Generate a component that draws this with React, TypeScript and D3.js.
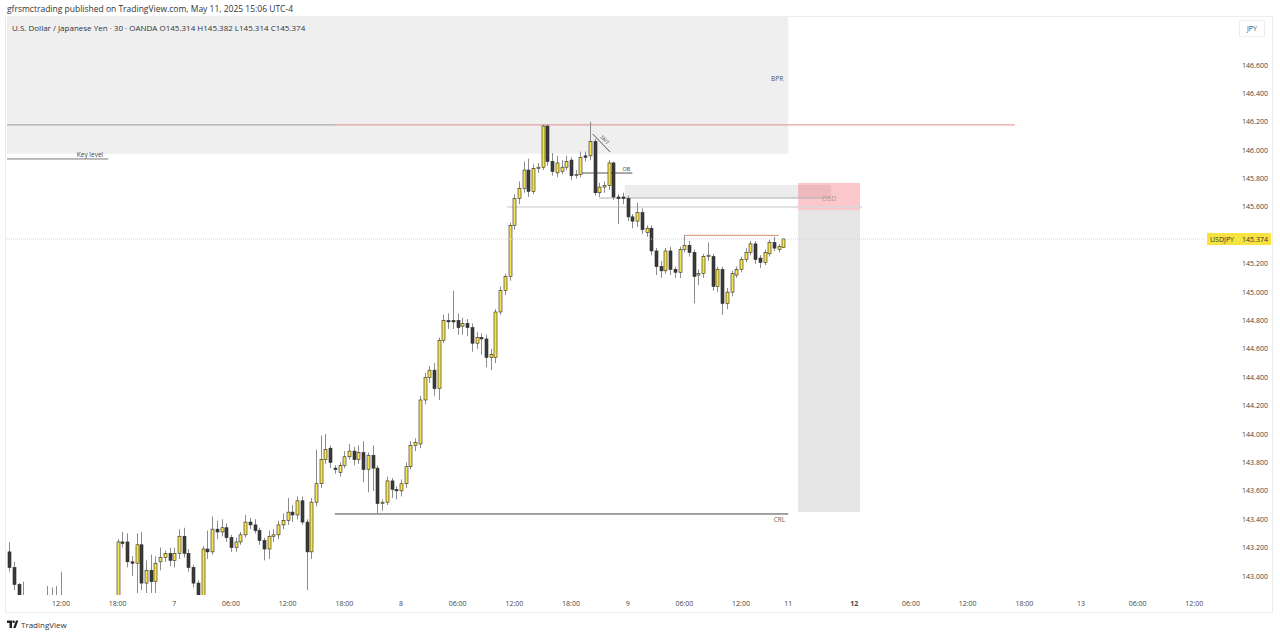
import * as d3 from 'd3'

// 30-minute USDJPY bars, [open, high, low, close]
// May 6 starts at 06:30, bar index 0
const may6Bars: number[][] = [
  [143.17, 143.24, 143.03, 143.06], [143.06, 143.1, 142.9, 142.94], [142.94, 142.95, 142.8, 142.83],
  [142.83, 142.96, 142.72, 142.78], [142.78, 142.84, 142.7, 142.74], [142.74, 142.8, 142.66, 142.7],
  [142.7, 142.78, 142.64, 142.75], [142.75, 142.82, 142.7, 142.77], [142.77, 142.93, 142.72, 142.8],
  [142.8, 142.92, 142.74, 142.82], [142.82, 142.93, 142.75, 142.79], [142.79, 143.03, 142.74, 142.8],
  [142.8, 142.85, 142.7, 142.72], [142.72, 142.78, 142.62, 142.66], [142.66, 142.74, 142.6, 142.7],
  [142.7, 142.78, 142.64, 142.68], [142.68, 142.74, 142.58, 142.62], [142.62, 142.7, 142.56, 142.66],
  [142.66, 142.76, 142.62, 142.72], [142.72, 142.8, 142.66, 142.7], [142.7, 142.78, 142.64, 142.74],
  [142.74, 142.82, 142.68, 142.76], [142.76, 142.84, 142.7, 142.8], [142.8, 143.26, 142.78, 143.24],
  [143.24, 143.31, 143.2, 143.23], [143.24, 143.3, 143.06, 143.1], [143.1, 143.14, 143.0, 143.09],
  [143.09, 143.3, 142.88, 143.22], [143.22, 143.31, 142.9, 142.95], [142.95, 143.11, 142.88, 143.04],
  [143.04, 143.15, 142.88, 142.96], [142.96, 143.14, 142.88, 143.09], [143.1, 143.2, 143.04, 143.13],
  [143.13, 143.18, 143.1, 143.16], [143.16, 143.2, 143.07, 143.11],
]
const may7Bars: number[][] = [
  [143.11, 143.2, 143.06, 143.16], [143.16, 143.33, 143.12, 143.28], [143.28, 143.34, 143.13, 143.16],
  [143.16, 143.19, 143.03, 143.06], [143.06, 143.08, 142.92, 142.95], [142.95, 142.97, 142.82, 142.86],
  [142.86, 143.21, 142.82, 143.19], [143.19, 143.32, 143.12, 143.17], [143.17, 143.42, 143.15, 143.33],
  [143.33, 143.39, 143.26, 143.31], [143.31, 143.4, 143.28, 143.34], [143.34, 143.37, 143.24, 143.27],
  [143.27, 143.29, 143.17, 143.2], [143.2, 143.27, 143.17, 143.24], [143.24, 143.31, 143.22, 143.29],
  [143.29, 143.43, 143.27, 143.38], [143.38, 143.41, 143.33, 143.36], [143.36, 143.4, 143.3, 143.32],
  [143.32, 143.34, 143.22, 143.25], [143.25, 143.27, 143.11, 143.19], [143.19, 143.32, 143.12, 143.28],
  [143.28, 143.33, 143.24, 143.29], [143.29, 143.39, 143.26, 143.36], [143.36, 143.44, 143.33, 143.39],
  [143.39, 143.55, 143.36, 143.45], [143.45, 143.5, 143.38, 143.43], [143.43, 143.56, 143.4, 143.53],
  [143.53, 143.56, 143.36, 143.38], [143.38, 143.4, 142.9, 143.17], [143.17, 143.55, 143.12, 143.52],
  [143.52, 143.89, 143.49, 143.65], [143.65, 143.99, 143.62, 143.82], [143.82, 144.0, 143.79, 143.89],
  [143.9, 143.92, 143.76, 143.8], [143.76, 143.78, 143.72, 143.75], [143.73, 143.8, 143.7, 143.78],
  [143.78, 143.88, 143.76, 143.84], [143.84, 143.93, 143.82, 143.88], [143.88, 143.91, 143.78, 143.82],
  [143.82, 143.92, 143.79, 143.87], [143.87, 143.95, 143.66, 143.75], [143.75, 143.87, 143.59, 143.85],
  [143.85, 143.92, 143.6, 143.76], [143.76, 143.78, 143.44, 143.51], [143.51, 143.54, 143.46, 143.52],
  [143.52, 143.7, 143.5, 143.67], [143.67, 143.69, 143.55, 143.61], [143.61, 143.63, 143.54, 143.6],
]
const may8Bars: number[][] = [
  [143.6, 143.68, 143.56, 143.65], [143.65, 143.8, 143.62, 143.77], [143.77, 143.95, 143.75, 143.92],
  [143.92, 143.97, 143.88, 143.94], [143.93, 144.27, 143.9, 144.24], [144.24, 144.43, 144.21, 144.4],
  [144.4, 144.48, 144.36, 144.45], [144.45, 144.5, 144.27, 144.32], [144.32, 144.68, 144.24, 144.66],
  [144.66, 144.84, 144.64, 144.8], [144.8, 144.85, 144.74, 144.79], [144.8, 145.01, 144.74, 144.79],
  [144.8, 144.85, 144.7, 144.75], [144.76, 144.82, 144.7, 144.78], [144.78, 144.81, 144.69, 144.75],
  [144.75, 144.78, 144.58, 144.64], [144.64, 144.72, 144.6, 144.68], [144.68, 144.71, 144.56, 144.67],
  [144.67, 144.7, 144.47, 144.54], [144.54, 144.6, 144.45, 144.56], [144.54, 144.88, 144.5, 144.86],
  [144.86, 145.04, 144.84, 145.01], [145.01, 145.13, 144.98, 145.11], [145.11, 145.49, 145.08, 145.47],
  [145.47, 145.69, 145.44, 145.66], [145.66, 145.78, 145.62, 145.73], [145.73, 145.92, 145.7, 145.86],
  [145.86, 145.94, 145.67, 145.71], [145.71, 145.9, 145.69, 145.87], [145.87, 145.91, 145.84, 145.88],
  [145.88, 146.18, 145.86, 146.17], [146.17, 146.18, 145.89, 145.92], [145.92, 145.98, 145.82, 145.85],
  [145.84, 145.96, 145.81, 145.91], [145.85, 145.93, 145.83, 145.88], [145.88, 145.96, 145.86, 145.92],
  [145.93, 145.95, 145.79, 145.82], [145.83, 145.86, 145.8, 145.83], [145.83, 145.99, 145.81, 145.95],
  [145.96, 145.99, 145.92, 145.95], [145.96, 146.2, 145.93, 146.06], [146.06, 146.08, 145.68, 145.7],
  [145.7, 145.77, 145.67, 145.74], [145.74, 145.78, 145.7, 145.75], [145.75, 145.93, 145.72, 145.91],
  [145.91, 145.92, 145.65, 145.67], [145.67, 145.69, 145.48, 145.66], [145.67, 145.7, 145.62, 145.66],
]
const may9Bars: number[][] = [
  [145.66, 145.68, 145.5, 145.53], [145.53, 145.55, 145.45, 145.5], [145.5, 145.63, 145.46, 145.56],
  [145.56, 145.59, 145.41, 145.44], [145.42, 145.47, 145.39, 145.45], [145.45, 145.47, 145.26, 145.29],
  [145.29, 145.31, 145.12, 145.18], [145.18, 145.22, 145.1, 145.15], [145.15, 145.31, 145.13, 145.29],
  [145.29, 145.32, 145.12, 145.16], [145.16, 145.18, 145.1, 145.14], [145.14, 145.32, 145.1, 145.3],
  [145.3, 145.4, 145.28, 145.33], [145.33, 145.36, 145.25, 145.28], [145.28, 145.3, 144.92, 145.11],
  [145.12, 145.16, 145.05, 145.13], [145.13, 145.27, 145.1, 145.25], [145.25, 145.35, 145.22, 145.26],
  [145.25, 145.27, 145.01, 145.04], [145.04, 145.18, 145.0, 145.16], [145.16, 145.18, 144.84, 144.92],
  [144.92, 145.03, 144.88, 145.0], [145.0, 145.15, 144.97, 145.13], [145.12, 145.18, 145.1, 145.16],
  [145.16, 145.25, 145.14, 145.23], [145.23, 145.31, 145.21, 145.28], [145.28, 145.36, 145.26, 145.34],
  [145.34, 145.36, 145.2, 145.23], [145.24, 145.26, 145.17, 145.21], [145.21, 145.3, 145.19, 145.28],
  [145.27, 145.37, 145.25, 145.35], [145.35, 145.39, 145.29, 145.31], [145.3, 145.34, 145.28, 145.32],
  [145.314, 145.382, 145.314, 145.374],
]

const priceTicks = [143.0, 143.2, 143.4, 143.6, 143.8, 144.0, 144.2, 144.4, 144.6, 144.8, 145.0, 145.2, 145.4, 145.6, 145.8, 146.0, 146.2, 146.4, 146.6]
// bar index of each time label (weekend gap removed, "11" = Sunday open)
const timeTickBars = [11, 23, 35, 47, 59, 71, 83, 95, 107, 119, 131, 143, 155, 165, 179, 191, 203, 215, 227, 239, 251]
const timeTickLabels = ['12:00', '18:00', '7', '06:00', '12:00', '18:00', '8', '06:00', '12:00', '18:00', '9', '06:00', '12:00', '11', '12', '06:00', '12:00', '18:00', '13', '06:00', '12:00']
const boldTicks = ['12']

// drawings: prices and bar indices
const bprZone = { top: 147.1, bottom: 145.975, end: 165 }
const highLine = { price: 146.178, split: 69, end: 213 }
const keyLevel = { price: 145.938, end: 21 }
const crlLine = { price: 143.437, start: 69, end: 165 }
const obLine = { price: 145.839, start: 121, end: 132 }
const smtLine = { p1: 146.114, i1: 123.6, p2: 145.987, i2: 127.3 }
const gapZone = { top: 145.755, bottom: 145.663, start: 130.4, end: 174 }
const gapLine = { price: 145.663, start: 125, end: 174 }
const lowLine = { price: 145.6, start: 105.5, end: 180.6 }
const stopZone = { top: 145.769, bottom: 145.578, start: 167.1, end: 180.2 }
const targetZone = { top: 145.578, bottom: 143.451 }
const eqhLine = { price: 145.4, start: 143, end: 163 }
const lastPrice = 145.374

const W = 1280
const H = 636
const plot = { left: 7, right: 1205, top: 17, bottom: 595 }

export default function App() {
  const bars = [...may6Bars, ...may7Bars, ...may8Bars, ...may9Bars].map((b, i) => ({
    i, o: b[0], h: b[1], l: b[2], c: b[3],
  }))

  const x = d3.scaleLinear().domain([11, 251]).range([61, 1194.3])
  const y = d3.scaleLinear().domain([146.6, 143.0]).range([65, 576])
  const fmt = d3.format('.3f')
  const bodyW = 3
  const lastY = y(lastPrice)

  const font = "'Open Sans', 'Liberation Sans', sans-serif"

  return (
    <svg width={W} height={H} style={{ position: 'absolute', left: 0, top: 0, background: '#fff' }} fontFamily={font}>
      <defs>
        <clipPath id="plot">
          <rect x={plot.left} y={plot.top} width={plot.right - plot.left} height={plot.bottom - plot.top} />
        </clipPath>
        <clipPath id="hidden-tick">
          <rect x={1207} y={lastY - 12} width={64} height={6} />
        </clipPath>
      </defs>
      <rect x={0} y={0} width={W} height={H} fill="#fff" />
      <text x={7} y={12} fontSize={8.5} fill="#333">gfrsmctrading published on TradingView.com, May 11, 2025 15:06 UTC-4</text>
      <rect x={5.5} y={16.5} width={1267} height={596} fill="#fff" stroke="#ececec" />

      <g clipPath="url(#plot)">
        {/* BPR zone */}
        <rect x={plot.left} y={y(bprZone.top)} width={x(bprZone.end) - plot.left} height={y(bprZone.bottom) - y(bprZone.top)} fill="#efefef" />
        {/* target / stop */}
        <rect x={x(stopZone.start)} y={y(targetZone.top)} width={x(stopZone.end) - x(stopZone.start)} height={y(targetZone.bottom) - y(targetZone.top)} fill="#e6e6e6" />
        <rect x={x(gapZone.start)} y={y(gapZone.top)} width={x(gapZone.end) - x(gapZone.start)} height={y(gapZone.bottom) - y(gapZone.top)} fill="#ececec" />
        <rect x={x(stopZone.start)} y={y(stopZone.top)} width={x(stopZone.end) - x(stopZone.start)} height={y(stopZone.bottom) - y(stopZone.top)} fill="#f23645" fillOpacity={0.28} />
        <line x1={x(gapLine.start)} x2={x(gapLine.end)} y1={y(gapLine.price)} y2={y(gapLine.price)} stroke="#b0b0b0" strokeWidth={1} />
        <line x1={x(lowLine.start)} x2={x(lowLine.end)} y1={y(lowLine.price)} y2={y(lowLine.price)} stroke="#d8d8d8" strokeWidth={1.5} />
        <text x={(x(stopZone.start) + x(stopZone.end)) / 2} y={y(gapLine.price) + 3} fontSize={6.5} fill="#a0a0a0" textAnchor="middle">CISD</text>

        {/* lines */}
        <line x1={plot.left} x2={x(highLine.split)} y1={y(highLine.price)} y2={y(highLine.price)} stroke="#9a9a9a" strokeWidth={1} />
        <line x1={x(highLine.split)} x2={x(highLine.end)} y1={y(highLine.price)} y2={y(highLine.price)} stroke="#e88a8a" strokeWidth={1} />
        <line x1={plot.left} x2={x(keyLevel.end)} y1={y(keyLevel.price)} y2={y(keyLevel.price)} stroke="#777" strokeWidth={1} />
        <text x={90} y={y(keyLevel.price) - 2} fontSize={6.5} fill="#444" textAnchor="middle">Key level</text>
        <text x={x(bprZone.end) - 5} y={81} fontSize={6.5} fill="#555" textAnchor="end">BPR</text>
        <line x1={x(crlLine.start)} x2={x(crlLine.end)} y1={y(crlLine.price)} y2={y(crlLine.price)} stroke="#444" strokeWidth={1} />
        <text x={x(crlLine.end) - 3} y={y(crlLine.price) + 8} fontSize={6.5} fill="#666" textAnchor="end">CRL</text>
        <line x1={x(eqhLine.start)} x2={x(eqhLine.end)} y1={y(eqhLine.price)} y2={y(eqhLine.price)} stroke="#d9906a" strokeWidth={1} />
        <line x1={x(obLine.start)} x2={x(obLine.end)} y1={y(obLine.price)} y2={y(obLine.price)} stroke="#555" strokeWidth={1} />
        <text x={x(obLine.end) - 2} y={y(obLine.price) - 2.5} fontSize={5.5} fill="#444" textAnchor="end">OB</text>
        <line x1={x(smtLine.i1)} x2={x(smtLine.i2)} y1={y(smtLine.p1)} y2={y(smtLine.p2)} stroke="#555" strokeWidth={1} />
        <text
          x={(x(smtLine.i1) + x(smtLine.i2)) / 2 + 2}
          y={(y(smtLine.p1) + y(smtLine.p2)) / 2 - 2}
          fontSize={5}
          fill="#444"
          textAnchor="middle"
          transform={`rotate(48 ${(x(smtLine.i1) + x(smtLine.i2)) / 2 + 2} ${(y(smtLine.p1) + y(smtLine.p2)) / 2 - 2})`}
        >
          SMT
        </text>

        {/* candles */}
        {bars.map(b => {
          const up = b.c >= b.o
          const cx = Math.round(x(b.i)) + 0.5
          const top = y(Math.max(b.o, b.c))
          const bot = y(Math.min(b.o, b.c))
          return (
            <g key={b.i}>
              <line x1={cx} x2={cx} y1={y(b.h)} y2={y(b.l)} stroke="#8c8c8c" strokeWidth={1} />
              <rect
                x={cx - bodyW / 2}
                y={top}
                width={bodyW}
                height={Math.max(1, bot - top)}
                fill={up ? '#f7e34a' : '#3a3a3a'}
                stroke="#2a2a2a"
                strokeWidth={0.6}
              />
            </g>
          )
        })}

        {/* last price line */}
        <line x1={plot.left} x2={plot.right} y1={lastY} y2={lastY} stroke="#f2e15a" strokeWidth={1} strokeDasharray="1 1" />
      </g>

      {/* header */}
      <text x={12} y={31} fontSize={8} fill="#333">
        U.S. Dollar / Japanese Yen · 30 · OANDA{'  '}O145.314{'  '}H145.382{'  '}L145.314{'  '}C145.374
      </text>

      {/* price axis */}
      <rect x={1239.5} y={20.5} width={25} height={16} fill="#fff" stroke="#eeeeee" />
      <text x={1252} y={31} fontSize={7} fill="#444" textAnchor="middle">JPY</text>
      {priceTicks.map(p => {
        const covered = Math.abs(y(p) - lastY) < 10
        return (
          <text
            key={p}
            x={1255}
            y={y(p) + 2.5}
            fontSize={7}
            fill="#444"
            textAnchor="middle"
            clipPath={covered ? 'url(#hidden-tick)' : undefined}
          >
            {fmt(p)}
          </text>
        )
      })}
      <rect x={1207} y={lastY - 6} width={64} height={12} fill="#f6e33f" />
      <text x={1210} y={lastY + 2.5} fontSize={7} fill="#333">USDJPY</text>
      <text x={1255} y={lastY + 2.5} fontSize={7} fill="#333" textAnchor="middle">{fmt(lastPrice)}</text>

      {/* time axis */}
      {timeTickBars.map((t, k) => (
        <text
          key={k}
          x={x(t)}
          y={606}
          fontSize={7}
          fill="#444"
          textAnchor="middle"
          fontWeight={boldTicks.includes(timeTickLabels[k]) ? 700 : 400}
        >
          {timeTickLabels[k]}
        </text>
      ))}

      {/* footer logo */}
      <g fill="#222">
        <path d="M7 620.5 h5 v7.5 h-2.5 v-5 h-2.5 z" />
        <circle cx={13.6} cy={621.8} r={1.3} />
        <path d="M13.2 628 L16 620.5 h2.4 L15.6 628 z" />
      </g>
      <text x={21} y={627.5} fontSize={8} fill="#333">TradingView</text>
    </svg>
  )
}
